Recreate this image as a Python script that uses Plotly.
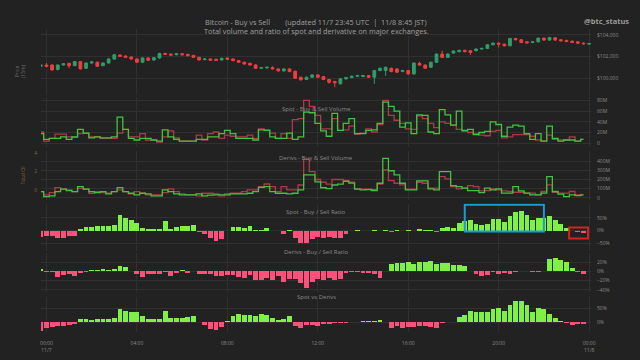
import pandas as pd
import plotly.graph_objects as go

# ---------------- data ----------------
bar_times = pd.date_range("2025-11-06 23:45", periods=97, freq="15min")
candle_times = pd.date_range("2025-11-06 23:45", periods=98, freq="15min")

price_open = [101120,101240,101240,100820,101240,101390,101180,101550,100940,101420,
              101490,101180,101420,101790,102150,102060,101970,101790,101490,101880,
              101700,101880,102300,102240,102180,102270,102210,102120,101940,101730,
              101790,101760,101700,101880,101790,101640,101490,101390,101240,100940,
              100970,101000,100880,100700,100880,100670,100120,99910,100120,100330,
              100180,99910,99730,99520,99970,100090,100210,100180,100270,100120,
              100730,100730,100940,100880,100640,100730,100420,101390,101240,101030,
              101490,102240,101940,102330,102460,102580,102550,102550,102700,102760,
              103090,103240,103150,103000,103670,103550,103360,103300,103360,103700,
              103520,103730,103550,103490,103420,103360,103240,103150]
price_close = [101240,101120,100790,101240,101360,101180,101550,100880,101420,101520,
               101120,101420,101790,102180,102030,101940,101790,101490,101880,101670,
               101910,102300,102210,102150,102270,102180,102090,101940,101700,101790,
               101670,101670,101850,101760,101640,101490,101330,101240,100940,101000,
               101030,100880,100700,100880,100640,100030,99880,100120,100330,100120,
               99910,99670,99610,99970,100090,100210,100270,100270,100120,100730,
               100940,101030,100640,100580,100730,100420,101420,101240,100940,101490,
               102240,101940,102240,102520,102580,102460,102390,102700,102760,103090,
               103240,103150,103000,103670,103550,103300,103270,103360,103700,103520,
               103760,103520,103460,103390,103300,103240,103180,103210]
price_high = [101300,101420,101300,101300,101420,101450,101600,101600,101480,101580,
              101550,101480,101850,102240,102210,102120,102030,101850,101940,101940,
              101970,102360,102360,102300,102330,102330,102270,102180,102000,101850,
              101850,101820,101910,101940,101850,101700,101550,101450,101300,101060,
              101120,101120,100940,100940,100940,100730,100180,100180,100390,100390,
              100240,99970,99790,100030,100150,100270,100330,100330,100330,100790,
              101000,101090,101000,100940,100790,100790,101480,101550,101300,101550,
              102300,102550,102300,102580,102640,102640,102610,102760,102820,103150,
              103300,103300,103210,103730,103730,103610,103420,103420,103760,103760,
              103820,103790,103610,103550,103480,103420,103300,103270]
price_low = [101060,101030,100700,100760,101180,100940,101120,100820,100880,101360,
             101060,101120,101360,101730,101970,101880,101730,101420,101420,101600,
             101640,101820,102150,102090,102120,102120,102030,101880,101640,101670,
             101610,101610,101640,101700,101580,101420,101270,101180,100880,100880,
             100910,100820,100640,100640,100580,99970,99820,99850,100060,100060,
             99850,99520,99210,99460,99910,100030,100150,100120,100060,99520,
             100670,100270,100580,100520,100580,100360,100360,101180,100880,100970,
             101420,101880,101880,102270,102400,102400,102150,102490,102640,102700,
             103030,102850,102940,102940,103490,103240,103210,103240,103300,103460,
             103460,103460,103400,103330,103240,103180,103120,103090]

# volumes in millions USD
spot_buy = [18,7,9,9,12,7,12,26,19,10,12,10,10,12,49,26,9,6,9,9,6,4,25,12,7,4,4,4,7,7,
            12,12,18,24,18,9,9,9,6,25,24,12,9,9,19,7,12,58,57,37,
            23,13,56,24,37,46,18,18,24,25,37,77,69,
            60,30,38,18,53,52,21,18,63,53,34,60,24,26,16,20,22,40,35,13,30,34,32,18,7,18,4,32,9,4,6,6,4,7]
spot_sell = [21,4,9,17,17,12,11,18,19,12,12,9,9,9,19,26,12,12,18,6,6,2,12,23,10,4,4,4,15,6,
             18,21,9,15,13,12,12,15,9,27,25,19,9,18,9,44,46,80,69,52,
             27,27,46,24,25,32,17,19,27,21,35,80,52,
             43,37,27,26,51,46,37,29,40,37,34,26,22,20,18,15,14,22,24,10,12,16,16,16,13,6,4,15,7,6,6,12,4,7]
deriv_buy = [68,14,22,68,94,79,68,122,94,68,58,68,43,68,112,68,50,32,50,43,22,22,86,68,43,32,32,32,43,22,
             29,32,32,32,43,43,43,50,68,115,122,68,50,50,43,50,86,
             250,250,175,110,100,140,150,180,160,94,86,90,80,159,429,295,
             250,159,87,87,184,184,97,87,285,285,134,123,105,79,79,58,105,87,97,51,51,123,76,51,32,32,51,231,69,40,14,32,25,32]
deriv_sell = [68,32,58,112,97,86,68,104,97,50,68,58,50,68,86,68,43,68,50,32,32,32,58,97,68,43,32,32,22,50,
              50,43,22,43,50,50,68,86,86,122,151,122,68,122,86,86,140,
              420,285,200,170,150,200,200,190,170,101,95,95,90,150,303,187,
              159,141,94,94,170,159,105,105,231,206,123,97,105,134,123,76,79,97,87,76,69,61,61,51,51,32,69,141,61,51,51,69,32,32]

# ratios in %
spot_ratio = [-26,-22,-22,-27,-27,-19,-19,6,13,13,18,19,17,21,59,50,41,30,9,8,
              6,6,37,8,13,18,17,23,-5,-12,-29,-40,-32,-1,14,14,9,18,4,4,
              9,-3,-3,-12,4,-29,-46,-46,-33,-24,-29,-24,-29,-27,-14,-1,1,-1,-2,1,
              -3,1,-4,1,-2,1,-1,6,4,4,-5,9,13,10,30,36,40,26,22,26,
              44,44,33,55,72,78,62,40,50,50,57,40,27,12,-1,-6,-10]
deriv_ratio = [6,-1,-1,-11,-8,-6,-10,-3,-1,4,4,5,4,5,11,9,1,-6,-12,-6,
               -6,-6,-1,-10,-4,3,-3,1,-5,-5,-5,-10,-10,-8,-8,-11,-14,-8,-19,-19,
               -15,-19,-10,-22,-17,-17,-26,-35,-22,-17,-18,-15,-18,-16,-4,-2,-2,-4,-4,-6,
               -14,2,17,18,19,20,17,21,21,23,16,18,19,15,14,12,0.5,-6,-10,-8,
               -2,-5,-4,-6,-2,0.5,1,-0.5,-1,1,27,30,24,20,8,-0.5,-5]
spot_vs_derivs = [-32,-20,-19,-15,-15,-10,-6,10,12,7,12,12,11,14,48,40,38,37,23,13,
                  13,13,39,17,17,15,19,21,-1,-10,-26,-30,-19,6,24,29,25,27,24,29,
                  26,15,8,11,21,-12,-21,-10,-10,-12,-5,-7,-4,-4,-2,1,0.5,6,4,6,
                  8,-1,-20,-14,-22,-18,-18,-12,-14,-18,-20,-4,-1,-1,20,25,42,38,36,38,
                  46,50,42,62,78,78,62,38,50,46,30,15,5,-2,-10,-8,-6]

x_ticks = ["2025-11-07 00:00", "2025-11-07 04:00", "2025-11-07 08:00", "2025-11-07 12:00",
           "2025-11-07 16:00", "2025-11-07 20:00", "2025-11-08 00:00"]
x_ticktext = ["00:00<br>11/7", "04:00", "08:00", "12:00", "16:00", "20:00", "00:00<br>11/8"]

# ---------------- style ----------------
BG = "#222222"
GRID = "#303030"
TXT = "#8a8a8a"
POS = "#7ff044"
NEG = "#ff4f7b"
GREEN_LINE = "#3fc43f"
RED_LINE = "rgba(200,60,80,0.85)"
FONT = "Open Sans"
H = 360.0

def dom(top_px, bot_px):
    return [1 - bot_px / H, 1 - top_px / H]

fig = go.Figure()

fig.add_trace(go.Candlestick(
    x=candle_times, open=price_open, high=price_high, low=price_low, close=price_close,
    increasing=dict(line=dict(color="#2e9e6b", width=1), fillcolor="#2e9e6b"),
    decreasing=dict(line=dict(color="#f23d3d", width=1), fillcolor="#f23d3d"),
    whiskerwidth=0, xaxis="x", yaxis="y", showlegend=False))

fig.add_trace(go.Scatter(x=bar_times, y=spot_sell, mode="lines", line=dict(color=RED_LINE, width=1.3, shape="hvh"),
                         xaxis="x", yaxis="y2", showlegend=False))
fig.add_trace(go.Scatter(x=bar_times, y=spot_buy, mode="lines", line=dict(color=GREEN_LINE, width=1.3, shape="hvh"),
                         xaxis="x", yaxis="y2", showlegend=False))
fig.add_trace(go.Scatter(x=bar_times, y=deriv_sell, mode="lines", line=dict(color=RED_LINE, width=1.3, shape="hvh"),
                         xaxis="x", yaxis="y3", showlegend=False))
fig.add_trace(go.Scatter(x=bar_times, y=deriv_buy, mode="lines", line=dict(color=GREEN_LINE, width=1.3, shape="hvh"),
                         xaxis="x", yaxis="y3", showlegend=False))

bar_w = 15 * 60 * 1000 * 0.86
for vals, ax in [(spot_ratio, "y5"), (deriv_ratio, "y6"), (spot_vs_derivs, "y7")]:
    fig.add_trace(go.Bar(x=bar_times, y=vals, width=bar_w,
                         marker=dict(color=[POS if v > 0 else NEG for v in vals], line=dict(width=0)),
                         xaxis="x", yaxis=ax, showlegend=False))

tickfont = dict(family=FONT, size=5, color=TXT)
common_y = dict(showgrid=True, gridcolor=GRID, gridwidth=1, zeroline=False, tickfont=tickfont,
                side="right", ticks="", showline=False, fixedrange=True, ticklabelstandoff=5)

fig.update_layout(
    width=640, height=360, paper_bgcolor=BG, plot_bgcolor=BG,
    margin=dict(l=41, r=49, t=0, b=0),
    bargap=0, showlegend=False,
    xaxis=dict(domain=[0, 1], anchor="y7", type="date",
               range=["2025-11-06 23:45:30", "2025-11-08 00:05"],
               tickvals=x_ticks, ticktext=x_ticktext, tickfont=tickfont,
               showgrid=True, gridcolor=GRID, zeroline=False, ticks="",
               rangeslider=dict(visible=False), ticklabelstandoff=7, fixedrange=True),
    yaxis=dict(common_y, domain=dom(28, 95), range=[98450, 104550], anchor="x",
               tickvals=[100000, 102000, 104000], ticktext=["$100,000", "$102,000", "$104,000"]),
    yaxis2=dict(common_y, domain=dom(96.8, 147.3), range=[-8, 86], anchor="x",
                tickvals=[0, 20, 40, 60, 80], ticktext=["0", "20M", "40M", "60M", "80M"]),
    yaxis3=dict(common_y, domain=dom(151, 200), range=[-22, 508], anchor="x",
                tickvals=[0, 100, 200, 300, 400], ticktext=["0", "100M", "200M", "300M", "400M"]),
    yaxis4=dict(overlaying="y3", side="left", anchor="x", range=[-1.08, 4.22], showgrid=False,
                zeroline=False, tickvals=[0, 2, 4], ticktext=["0", "2", "4"], ticks="",
                tickfont=dict(family=FONT, size=5, color="#7d6e2c"),
                title=dict(text="Total OI", font=dict(family=FONT, size=5, color="#7d6e2c"), standoff=8),
                ticklabelstandoff=3, fixedrange=True),
    yaxis5=dict(common_y, domain=dom(203.7, 251.8), range=[-80, 105], anchor="x",
                tickvals=[-50, 0, 50], ticktext=["\u221250%", "0%", "50%"]),
    yaxis6=dict(common_y, domain=dom(253.4, 292.9), range=[-45, 40], anchor="x",
                tickvals=[-40, -20, 0, 20], ticktext=["\u221240%", "\u221220%", "0%", "20%"]),
    yaxis7=dict(common_y, domain=dom(298, 333), range=[-36, 90], anchor="x",
                tickvals=[0, 50], ticktext=["0%", "50%"]),
)

# invisible trace so the OI axis is drawn
fig.add_trace(go.Scatter(x=[bar_times[0]], y=[None], xaxis="x", yaxis="y4", mode="lines", showlegend=False))

def ann(text, y_px, size=6, color=TXT, **kw):
    fig.add_annotation(text=text, xref="paper", yref="paper", x=kw.pop("x", 0.5), y=1 - y_px / H,
                       showarrow=False, font=dict(family=FONT, size=size, color=color), **kw)

ann("Spot - Buy &amp; Sell Volume", 103)
ann("Derivs - Buy &amp; Sell Volume", 158)
ann("Spot - Buy / Sell Ratio", 212)
ann("Derivs - Buy / Sell Ratio", 258)
ann("Spot vs Derivs", 304)

sp = "\u00a0" * 8
ann("Bitcoin - Buy vs Sell" + sp + "(updated 11/7 23:45 UTC\u00a0\u00a0|\u00a0\u00a011/8 8:45 JST)", 14, size=7.3, color="#a0a0a0")
ann("Total volume and ratio of spot and derivative on major exchanges.", 23, size=7.3, color="#a0a0a0")
ann("<b>@btc_status</b>", 13, size=7.5, color="#9a9a9a", x=(631 - 41) / 550, xanchor="right")
ann("Price<br>(15m)", 62, size=5, color="#6a6a6a", x=(12 - 41) / 550, textangle=-90)

fig.add_shape(type="rect", xref="x", yref="y5", x0="2025-11-07 18:30", x1="2025-11-07 22:00",
              y0=-3, y1=100, line=dict(color="#1a9bd7", width=2), fillcolor="rgba(0,0,0,0)")
fig.add_shape(type="rect", xref="x", yref="y5", x0="2025-11-07 23:07", x1="2025-11-07 23:57",
              y0=-30, y1=12, line=dict(color="#e01e1e", width=2), fillcolor="rgba(0,0,0,0)")

fig.write_html("out.html", config={"displayModeBar": False, "staticPlot": True},
               post_script="document.body.style.margin='0';document.body.style.overflow='hidden';document.body.style.background='#222222';")
